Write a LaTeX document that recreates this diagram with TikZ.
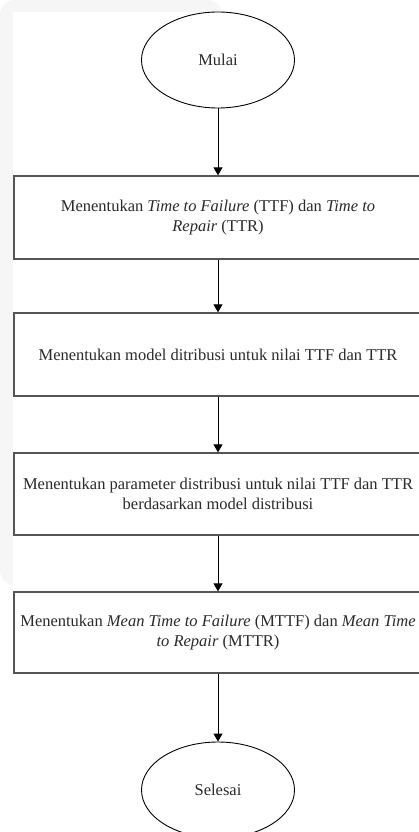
\documentclass[tikz,border=0pt]{standalone}
\usepackage{fontspec}
\setmainfont{Liberation Serif}
\usetikzlibrary{shapes.geometric,arrows.meta}
\definecolor{txt}{HTML}{2A2A2A}
\definecolor{boxline}{HTML}{555555}
\definecolor{bgfaint}{HTML}{F6F6F6}
\tikzset{
  term/.style={ellipse, draw=black, line width=0.9pt, minimum width=153pt, minimum height=96pt, inner sep=0pt, text=txt, font=\fontsize{16.5}{20}\selectfont},
  procbox/.style={rectangle, draw=boxline, line width=1.3pt, minimum width=408pt, inner sep=0pt, text=txt, align=center, font=\fontsize{16.5}{20}\selectfont},
  flow/.style={draw=black, line width=0.9pt, -{Triangle[width=9pt,length=8pt]}}
}
\begin{document}
\begin{tikzpicture}[x=1pt,y=-1pt]
\useasboundingbox (0,0) rectangle (419,832);
\clip (0,0) rectangle (419,832);
\fill[bgfaint, rounded corners=15pt] (0,0) rectangle (222,585);
\fill[white] (13,12) rectangle (419,832);
\node[term] (start) at (218,60) {Mulai};
\node[procbox, minimum height=83pt] (b1) at (218,217.5) {Menentukan \textit{Time to Failure} (TTF) dan \textit{Time to}\\\textit{Repair} (TTR)};
\node[procbox, minimum height=83pt] (b2) at (218,354.5) {Menentukan model ditribusi untuk nilai TTF dan TTR};
\node[procbox, minimum height=82pt] (b3) at (218,494) {Menentukan parameter distribusi untuk nilai TTF dan TTR\\berdasarkan model distribusi};
\node[procbox, minimum height=81pt] (b4) at (218,632.5) {Menentukan \textit{Mean Time to Failure} (MTTF) dan \textit{Mean Time}\\\textit{to Repair} (MTTR)};
\node[term] (end) at (218,790) {Selesai};
\draw[flow] (start) -- (b1);
\draw[flow] (b1) -- (b2);
\draw[flow] (b2) -- (b3);
\draw[flow] (b3) -- (b4);
\draw[flow] (b4) -- (end);
\end{tikzpicture}
\end{document}
